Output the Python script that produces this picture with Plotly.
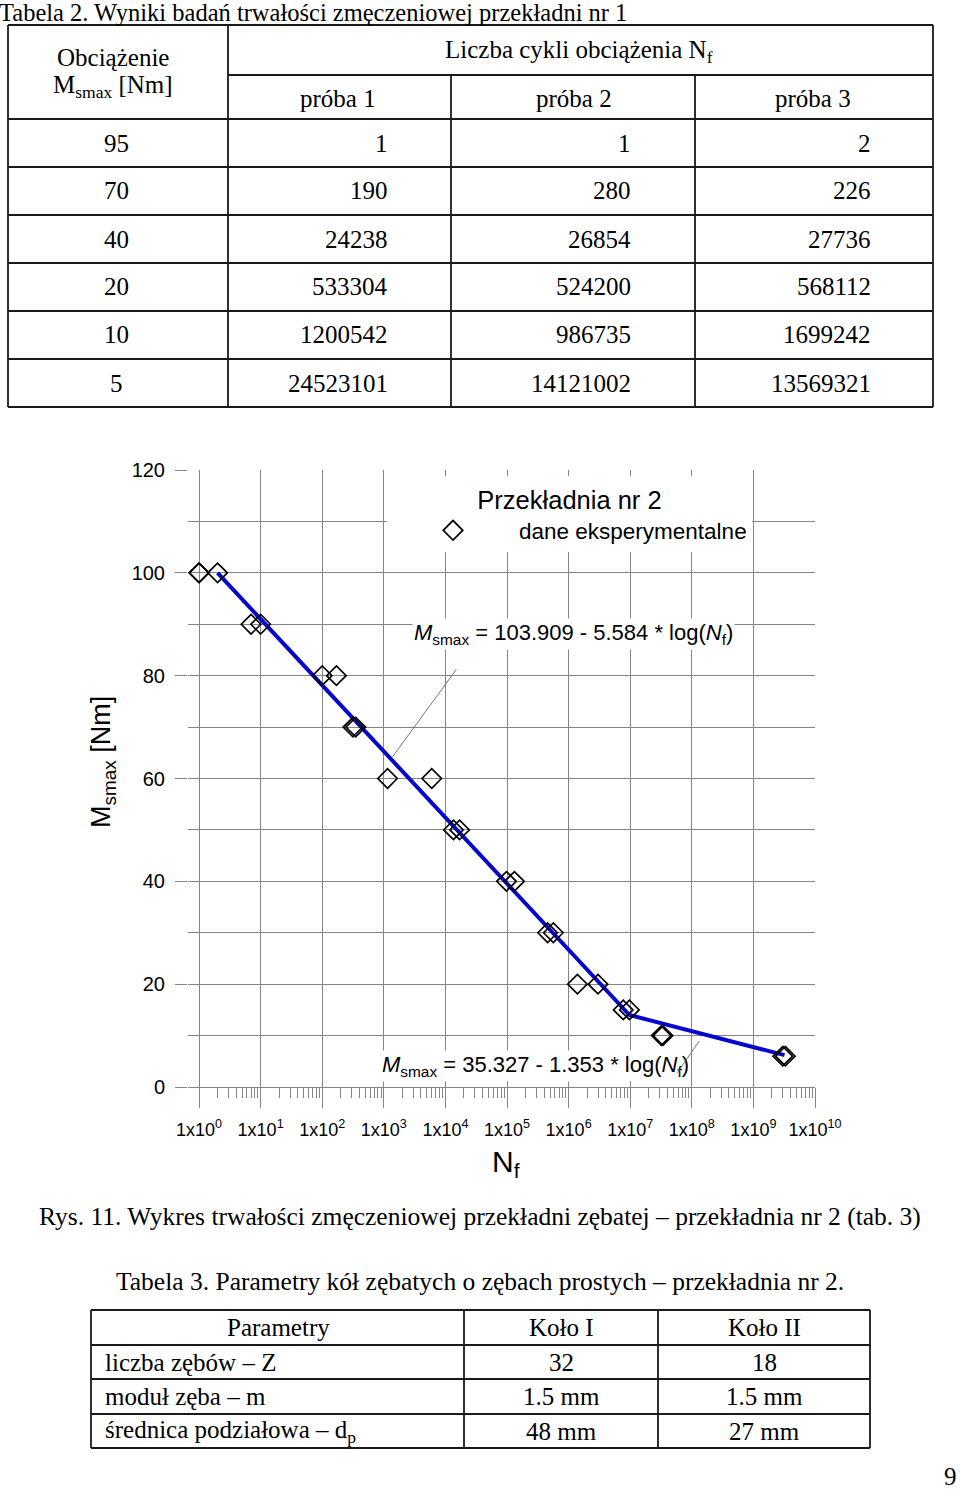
import plotly.graph_objects as go

W, H = 960, 1497
SERIF = "Liberation Serif, Times New Roman, serif"
SANS = "Liberation Sans, Arial, sans-serif"

# ---- Tabela 2 (tekst)
t2_loads = ["95", "70", "40", "20", "10", "5"]
t2_proba1 = ["1", "190", "24238", "533304", "1200542", "24523101"]
t2_proba2 = ["1", "280", "26854", "524200", "986735", "14121002"]
t2_proba3 = ["2", "226", "27736", "568112", "1699242", "13569321"]
t2_cols = ["próba 1", "próba 2", "próba 3"]

# ---- wykres: dane eksperymentalne
m_exp = [100, 100, 100, 90, 90, 80, 80, 70, 70, 60, 60, 50, 50,
         40, 40, 30, 30, 20, 20, 15, 15, 10, 10, 6, 6]
n_exp = [1, 1, 2, 7, 10, 100, 170, 315, 350, 1150, 6000, 13500, 17000,
         98000, 132000, 457000, 565000, 1.39e6, 3.0e6, 7.7e6, 9.7e6,
         3.2e7, 3.4e7, 3.0e9, 3.3e9]

# linia regresji (wierzchołki)
fit_n = [2, 9.7e6, 3.2e9]
fit_m = [100, 14.0, 6.2]

x_tickvals = [10 ** k for k in range(11)]
x_ticktext = [f"1x10<sup>{k}</sup>" for k in range(11)]
x_minorvals = [d * 10 ** k for k in range(10) for d in range(2, 10)]

# ---- Tabela 3
t3_head = ["Parametry", "Koło I", "Koło II"]
t3_params = ["liczba zębów – Z", "moduł zęba – m", "średnica podziałowa – d<sub>p</sub>"]
t3_kolo1 = ["32", "1.5 mm", "48 mm"]
t3_kolo2 = ["18", "1.5 mm", "27 mm"]


def px(x):
    return x / W


def py(y):
    return 1 - y / H


shapes = []
annotations = []


def line(x0, y0, x1, y1, color="#1a1a1a", width=1.8):
    shapes.append(dict(type="line", xref="paper", yref="paper",
                       x0=px(x0), y0=py(y0), x1=px(x1), y1=py(y1),
                       line=dict(color=color, width=width)))


def text(x, y, s, size=25, anchor="center", family=SERIF, yanchor="middle", **kw):
    annotations.append(dict(xref="paper", yref="paper", x=px(x), y=py(y),
                            text=s, showarrow=False, xanchor=anchor,
                            yanchor=yanchor, font=dict(family=family, size=size, color="black"),
                            **kw))


# ---------- Tabela 2
text(-2, -2, "Tabela 2. Wyniki badań trwałości zmęczeniowej przekładni nr 1", size=24.5,
     anchor="left", yanchor="top", borderpad=0)
t2x = [8, 228, 451, 695, 933]
t2_top, t2_split, t2_head, t2_rh = 25, 75, 119, 48
t2_bot = t2_head + t2_rh * len(t2_loads)
line(t2x[0], t2_top, t2x[-1], t2_top)
line(t2x[1], t2_split, t2x[-1], t2_split)
for i in range(len(t2_loads) + 1):
    y = t2_head + i * t2_rh
    line(t2x[0], y, t2x[-1], y)
for i, xv in enumerate(t2x):
    line(xv, t2_top if i in (0, 1, 4) else t2_split, xv, t2_bot)

text(113, 58, "Obciążenie")
text(113, 87, "M<sub>smax</sub> [Nm]")
text(579, 52, "Liczba cykli obciążenia N<sub>f</sub>")
for cx, lab in zip([338, 574, 813], t2_cols):
    text(cx, 98, lab)
right_edges = [390, 633, 873]
for i, load in enumerate(t2_loads):
    yc = t2_head + t2_rh * (i + 0.5)
    text(116, yc, load)
    for edge, col in zip(right_edges, [t2_proba1, t2_proba2, t2_proba3]):
        text(edge, yc, col[i], anchor="right")

# ---------- wykres
fig = go.Figure()
fig.add_trace(go.Scatter(x=fit_n, y=fit_m, mode="lines", showlegend=False,
                         line=dict(color="#0606cc", width=4)))
fig.add_trace(go.Scatter(x=n_exp, y=m_exp, mode="markers", name="dane eksperymentalne",
                         marker=dict(symbol="diamond-open", size=15, color="black",
                                     line=dict(width=1.7, color="black"))))

GRID = "#858585"
fig.update_xaxes(type="log", range=[-0.179, 10], domain=[px(188), px(815)],
                 tickmode="array", tickvals=x_tickvals, ticktext=x_ticktext,
                 ticks="outside", ticklen=20, tickcolor=GRID, tickwidth=1,
                 showgrid=True, gridcolor=GRID, gridwidth=1, zeroline=False, showline=False,
                 tickfont=dict(family=SANS, size=18, color="black"), ticklabelstandoff=6,
                 automargin=False,
                 minor=dict(tickmode="array", tickvals=x_minorvals, ticks="outside",
                            ticklen=10, tickcolor=GRID, tickwidth=1, showgrid=False))
fig.update_yaxes(range=[0, 120], domain=[py(1087), py(470)], dtick=20,
                 ticks="outside", ticklen=12, tickcolor=GRID, tickwidth=1,
                 showgrid=True, gridcolor=GRID, gridwidth=1,
                 zeroline=True, zerolinecolor=GRID, zerolinewidth=1, showline=False,
                 tickfont=dict(family=SANS, size=20, color="black"), ticklabelstandoff=6,
                 automargin=False,
                 minor=dict(dtick=10, showgrid=True, gridcolor=GRID, gridwidth=1, ticks=""))

# równania + linie odniesienia
eq1 = "<i>M</i><sub>smax</sub> = 103.909 - 5.584 * log(<i>N</i><sub>f</sub>)"
eq2 = "<i>M</i><sub>smax</sub> = 35.327 - 1.353 * log(<i>N</i><sub>f</sub>)"
text(573, 634, eq1, size=22, family=SANS, bgcolor="white")
text(535, 1066, eq2, size=22, family=SANS, bgcolor="white")
annotations.append(dict(x=3.14, y=64.2, xref="x", yref="y", ax=65, ay=-89, text="",
                        showarrow=True, arrowhead=0, arrowwidth=0.8, arrowcolor="#555", standoff=0))
annotations.append(dict(x=8.12, y=8.9, xref="x", yref="y", ax=-23, ay=33, text="",
                        showarrow=True, arrowhead=0, arrowwidth=0.8, arrowcolor="#555", standoff=0))

text(103, 762, "M<sub>smax</sub> [Nm]", size=27, family=SANS, textangle=-90)
text(506, 1163, "N<sub>f</sub>", size=30, family=SANS)

# ---------- podpis i Tabela 3
text(480, 1216, "Rys. 11. Wykres trwałości zmęczeniowej przekładni zębatej – przekładnia nr 2 (tab. 3)", size=25.5)
text(480, 1281, "Tabela 3. Parametry kół zębatych o zębach prostych – przekładnia nr 2.", size=25.5)
t3x = [91, 464, 658, 870]
t3y = [1310, 1345, 1379, 1414, 1448]
for yv in t3y:
    line(t3x[0], yv, t3x[-1], yv)
for xv in t3x:
    line(xv, t3y[0], xv, t3y[-1])
for cx, lab in zip([278, 561, 764], t3_head):
    text(cx, (t3y[0] + t3y[1]) / 2, lab)
for i in range(len(t3_params)):
    yc = (t3y[i + 1] + t3y[i + 2]) / 2
    text(103, yc, t3_params[i], anchor="left")
    text(561, yc, t3_kolo1[i])
    text(764, yc, t3_kolo2[i])

text(950, 1476, "9")

fig.update_layout(
    width=W, height=H, margin=dict(l=0, r=0, t=0, b=0, autoexpand=False),
    paper_bgcolor="white", plot_bgcolor="white",
    shapes=shapes, annotations=annotations,
    showlegend=True,
    legend=dict(x=px(387), y=py(476), xanchor="left", yanchor="top",
                bgcolor="white", borderwidth=0, itemwidth=122,
                title=dict(text="Przekładnia nr 2", side="top center",
                           font=dict(family=SANS, size=25.5, color="black")),
                font=dict(family=SANS, size=22.5, color="black")),
)

# strona bez marginesu, żeby wykres miał dokładnie rozmiar okna
fig.write_html("out.html", config={"displayModeBar": False},
               post_script="document.body.style.margin='0';")
